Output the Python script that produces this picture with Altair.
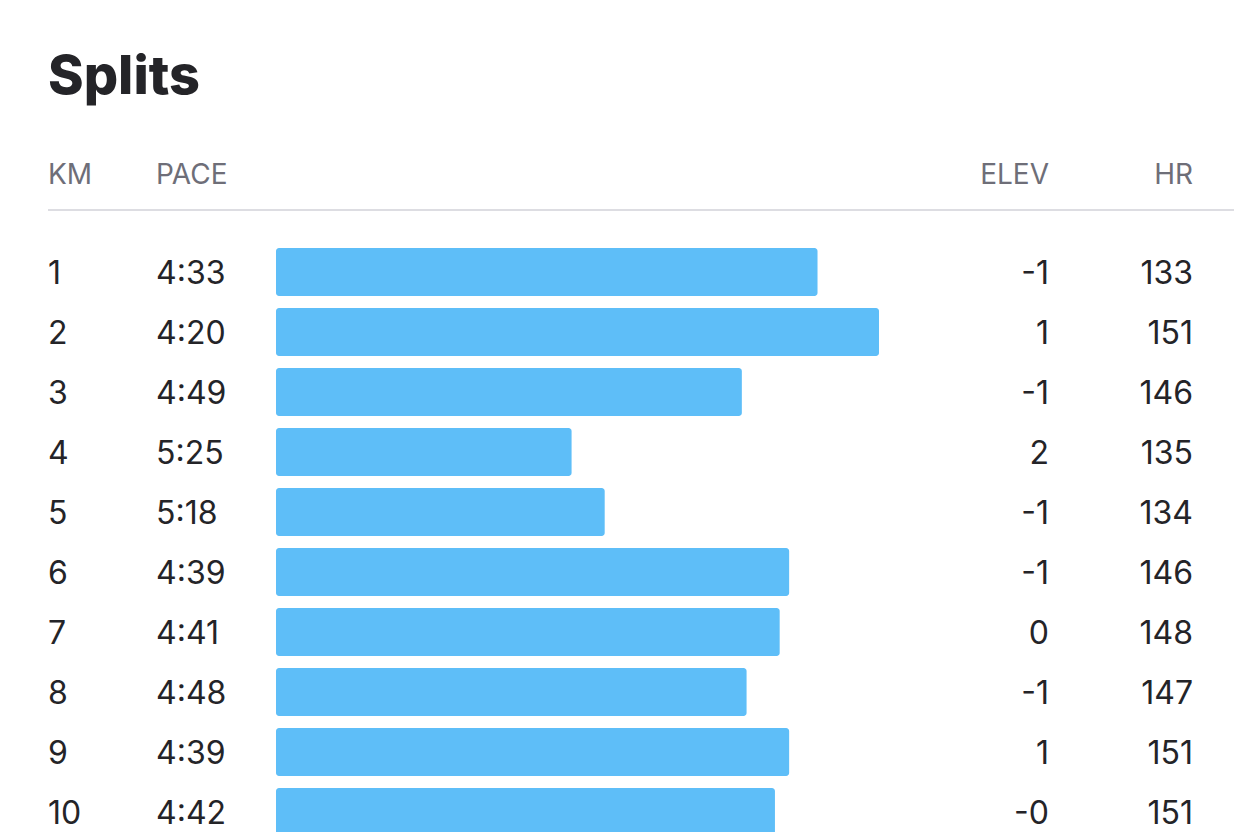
import altair as alt
import pandas as pd

km = [1, 2, 3, 4, 5, 6, 7, 8, 9, 10]
pace = ["4:33", "4:20", "4:49", "5:25", "5:18", "4:39", "4:41", "4:48", "4:39", "4:42"]
elev = ["-1", "1", "-1", "2", "-1", "-1", "0", "-1", "1", "-0"]
hr = [133, 151, 146, 135, 134, 146, 148, 147, 151, 151]
headers = ["KM", "PACE", "ELEV", "HR"]

pace_sec = [int(p.split(":")[0]) * 60 + int(p.split(":")[1]) for p in pace]

df = pd.DataFrame({"km": km, "pace": pace, "sec": pace_sec, "elev": elev, "hr": hr})

FONT = "Inter"
DARK = "#242428"
GRAY = "#6e6e78"
BLUE = "#5ebef8"

yenc = alt.Y("km:O", axis=None,
             scale=alt.Scale(paddingInner=0.2, paddingOuter=0.1, range=[0, 600]))

base = alt.Chart(df)

bars = base.mark_bar(color=BLUE, cornerRadius=3).encode(
    x=alt.X("sec:Q", axis=None,
            scale=alt.Scale(domain=[387.5, 260], range=[228, 831], zero=False, nice=False)),
    x2=alt.datum(387.5),
    y=yenc,
)

def col_text(field, xpos, align):
    return base.mark_text(font=FONT, fontSize=32, color=DARK, align=align,
                          baseline="middle", dy=2).encode(
        x=alt.value(xpos), y=yenc, text=field)

t_km = col_text("km:N", 0, "left")
t_pace = col_text("pace:N", 108, "left")
t_elev = col_text("elev:N", 1001, "right")
t_hr = col_text("hr:N", 1145, "right")

hdr_df = pd.DataFrame({"h": headers})

def hdr_text(label, xpos, align):
    return alt.Chart(hdr_df).transform_filter(alt.datum.h == label).mark_text(
        font=FONT, fontSize=28, color=GRAY, align=align, baseline="middle"
    ).encode(x=alt.value(xpos), y=alt.value(-66), text="h:N")

h_km = hdr_text("KM", 0, "left")
h_pace = hdr_text("PACE", 108, "left")
h_elev = hdr_text("ELEV", 1001, "right")
h_hr = hdr_text("HR", 1145, "right")

rule = alt.Chart(hdr_df).transform_filter(alt.datum.h == "KM").mark_rule(
    color="#d2d2d8", strokeWidth=1.5
).encode(x=alt.value(0), x2=alt.value(1194), y=alt.value(-32))

chart = alt.layer(
    bars, t_km, t_pace, t_elev, t_hr, h_km, h_pace, h_elev, h_hr, rule
).properties(
    width=1186,
    height=590,
    background="white",
    title=alt.TitleParams("Splits", anchor="start", font=FONT, fontSize=54,
                          fontWeight=800, color=DARK, frame="group", offset=57),
    autosize=alt.AutoSizeParams(type="none"),
    padding={"left": 40, "top": 234, "right": 0, "bottom": 0},
).configure_view(strokeWidth=0, stroke="transparent")

chart.save("out.html", embed_options={"renderer": "svg", "actions": False})
